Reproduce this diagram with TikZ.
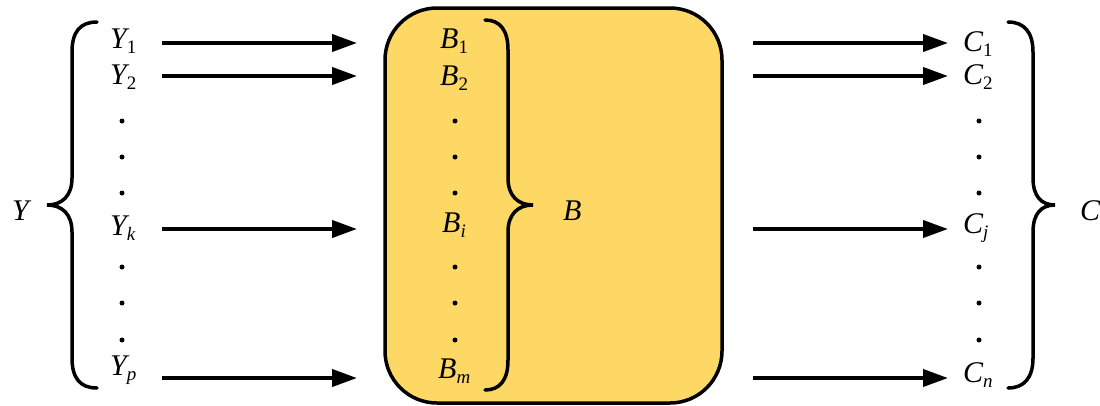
\documentclass[tikz,border=0pt]{standalone}
\usepackage{fontspec}
\setmainfont{Liberation Serif}
\usetikzlibrary{arrows.meta}
\definecolor{boxyellow}{HTML}{FDD865}
\newcommand{\lbl}[3][0pt]{{\itshape #2}\kern#1\raisebox{-5pt}{\fontsize{19}{19}\selectfont #3}}
\begin{document}
\begin{tikzpicture}[x=1pt,y=-1pt,
  lab/.style={anchor=base west, inner sep=0pt, font=\fontsize{30}{30}\selectfont},
  arr/.style={line width=4pt, -{Triangle[length=25pt,width=17pt]}},
  brace/.style={line width=3.5pt, line cap=round},
  vdot/.style={circle, fill=black, inner sep=0pt, minimum size=5pt},
  mainbox/.style={line width=3.5pt, fill=boxyellow, rounded corners=52pt}]
\useasboundingbox (0,0) rectangle (1100,405);
% central box
\draw[mainbox] (385,8) rectangle (722,403);
% left labels
\node[lab] (Y1) at (110,48) {\lbl{Y}{1}};
\node[lab] (Y2) at (110,84) {\lbl{Y}{2}};
\node[lab] (Yk) at (110,235) {\lbl{Y}{\itshape k}};
\node[lab] (Yp) at (110,375) {\lbl{Y}{\itshape p}};
\foreach \yy/\nm in {121/a,157/b,193/c,267/d,303/e,340/f}{
  \node[vdot] (yd\nm) at (122,\yy) {};
  \node[vdot] (bd\nm) at (455,\yy) {};
  \node[vdot] (cd\nm) at (979,\yy) {};
}
\node[lab] (Ybig) at (12,220) {\itshape Y};
% B labels
\node[lab] (B1) at (440,48) {\lbl{B}{1}};
\node[lab] (B2) at (440,85) {\lbl{B}{2}};
\node[lab] (Bi) at (442,232) {\lbl{B}{\itshape i}};
\node[lab] (Bm) at (438,378) {\lbl{B}{\itshape m}};
\node[lab] (Bbig) at (563,220) {\itshape B};
% C labels
\node[lab] (C1) at (963,51) {\lbl{C}{1}};
\node[lab] (C2) at (963,84) {\lbl{C}{2}};
\node[lab] (Cj) at (963,233) {\lbl{C}{\itshape j}};
\node[lab] (Cn) at (963,382) {\lbl{C}{\itshape n}};
\node[lab] (Cbig) at (1080,220) {\itshape C};
% arrow end points
\foreach \yy/\nm in {43/1,76/2,229/3,378/4}{
  \coordinate (ls\nm) at (162,\yy);
  \coordinate (le\nm) at (357,\yy);
  \coordinate (rs\nm) at (753,\yy);
  \coordinate (re\nm) at (948,\yy);
}
\foreach \nm in {1,2,3,4}{
  \draw[arr] (ls\nm) -- (le\nm);
  \draw[arr] (rs\nm) -- (re\nm);
}
% left brace
\draw[brace] (97,22) .. controls (80,22) and (72,32) .. (72,52) -- (72,178)
  .. controls (72,196) and (62,205) .. (47,205)
  .. controls (62,205) and (72,214) .. (72,232) -- (72,358)
  .. controls (72,378) and (80,388) .. (97,388);
% B brace
\draw[brace] (485,20) .. controls (500,20) and (508,30) .. (508,50) -- (508,178)
  .. controls (508,196) and (518,205) .. (533,205)
  .. controls (518,205) and (508,214) .. (508,232) -- (508,360)
  .. controls (508,380) and (500,390) .. (485,390);
% C brace
\draw[brace] (1008,22) .. controls (1024,22) and (1033,32) .. (1033,52) -- (1033,178)
  .. controls (1033,196) and (1041,205) .. (1055,205)
  .. controls (1041,205) and (1033,214) .. (1033,232) -- (1033,358)
  .. controls (1033,378) and (1024,388) .. (1008,388);
\end{tikzpicture}
\end{document}
